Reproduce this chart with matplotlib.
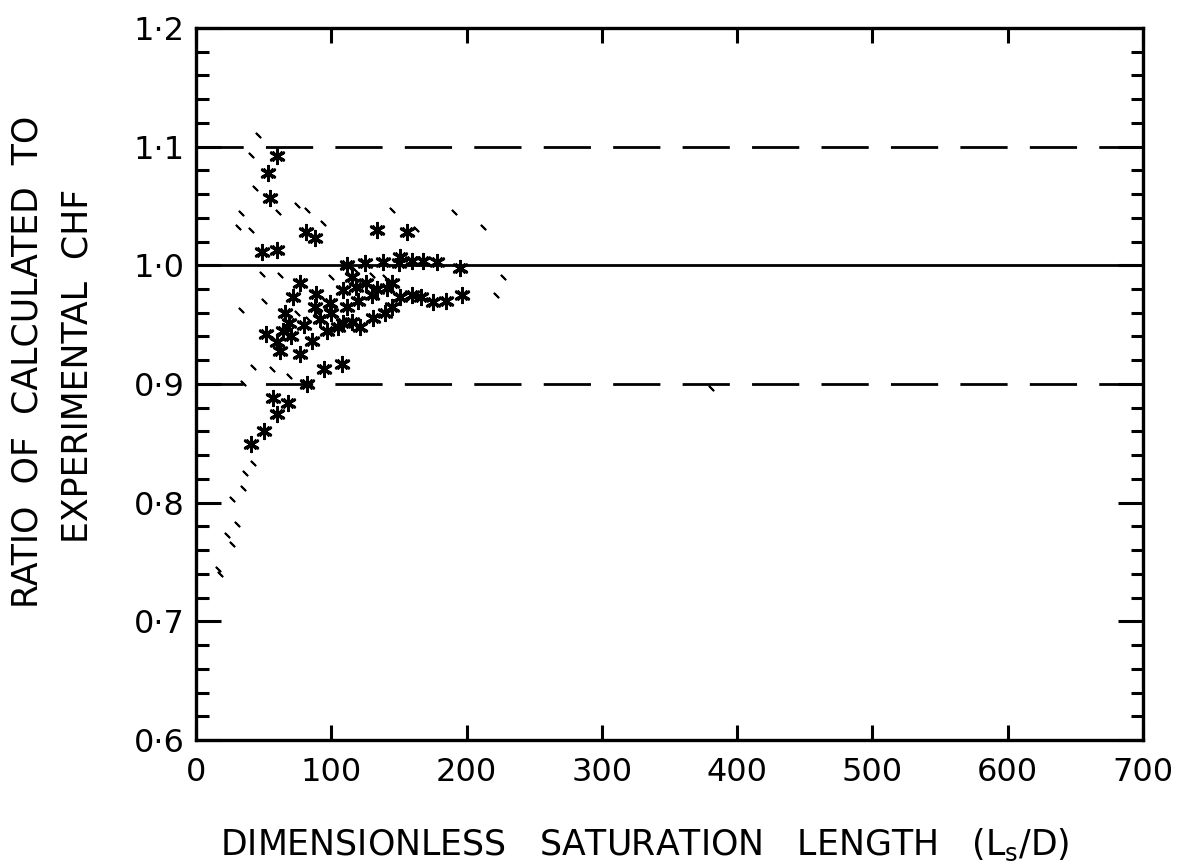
import matplotlib
matplotlib.use('Agg')
import matplotlib.pyplot as plt
from matplotlib.ticker import FixedLocator, FixedFormatter, MultipleLocator

# CHF ratio data
# heavy asterisk clusters
star_x = [60, 53, 55, 81, 88, 49, 60, 134, 156, 112, 125, 138, 151, 160, 168, 195,
          109, 118, 126, 134, 141, 151, 160, 166, 175, 197, 77, 89, 72, 99, 112,
          97, 105, 109, 115, 121, 131, 69, 52, 62, 77, 86, 95, 82, 68, 60, 57,
          50, 41, 64, 108,
          115, 130, 145, 120, 100, 92, 80, 70, 60, 145, 185, 140, 150, 178, 88, 66]
star_y = [1.092, 1.078, 1.057, 1.028, 1.023, 1.011, 1.013, 1.030, 1.028, 1.000,
          1.002, 1.003, 1.007, 1.004, 1.004, 0.998, 0.979, 0.982, 0.985, 0.980,
          0.981, 0.973, 0.975, 0.973, 0.969, 0.975, 0.985, 0.976, 0.973, 0.968,
          0.965, 0.945, 0.948, 0.951, 0.952, 0.948, 0.956, 0.951, 0.942, 0.928,
          0.925, 0.936, 0.913, 0.900, 0.884, 0.875, 0.888, 0.860, 0.849, 0.945,
          0.917,
          0.990, 0.975, 0.985, 0.970, 0.960, 0.955, 0.950, 0.940, 0.935, 0.965,
          0.970, 0.960, 1.002, 1.003, 0.965, 0.960]

# small isolated marks
speck_x = [46, 41, 44, 61, 75, 82, 33, 31, 41, 94, 145, 163, 191, 212, 227, 222,
           49, 62, 50, 33, 42, 56, 35, 69, 42, 36, 35, 27, 30, 23, 27, 16, 18,
           381, 100, 90, 118, 130, 140, 75, 83]
speck_y = [1.110, 1.093, 1.065, 1.045, 1.051, 1.047, 1.044, 1.032, 1.030, 1.036,
           1.047, 1.031, 1.045, 1.032, 0.990, 0.975, 0.993, 0.992, 0.970, 0.962,
           0.914, 0.913, 0.901, 0.907, 0.833, 0.825, 0.812, 0.803, 0.782, 0.773,
           0.765, 0.744, 0.740, 0.897, 0.990, 0.960, 0.995, 0.992, 0.990, 0.960,
           0.955]

x_ticks = [0, 100, 200, 300, 400, 500, 600, 700]
y_ticks = [0.6, 0.7, 0.8, 0.9, 1.0, 1.1, 1.2]
y_tick_labels = ['0·6', '0·7', '0·8', '0·9', '1·0', '1·1', '1·2']
ref_line = 1.0
band_lines = [0.9, 1.1]


def main():
    fig = plt.figure(figsize=(11.84, 8.68), dpi=100)
    ax = fig.add_axes([0.1655, 0.1475, 0.7998, 0.8203])

    ax.set_xlim(0, 700)
    ax.set_ylim(0.6, 1.2)

    ax.axhline(ref_line, color='black', linewidth=2.0, zorder=2)
    for yv in band_lines:
        ax.axhline(yv, color='black', linewidth=2.0, dashes=(17, 8), zorder=2)

    ax.scatter(star_x, star_y, marker=(6, 2, 0), s=110, color='black',
               linewidths=2.0, zorder=3)
    ax.scatter(star_x, star_y, marker=(4, 2, 45), s=70, color='black',
               linewidths=1.5, zorder=3)
    ax.scatter(speck_x, speck_y, marker=(2, 2, 45), s=16, color='black',
               linewidths=1.4, zorder=3)

    ax.xaxis.set_major_locator(FixedLocator(x_ticks))
    ax.yaxis.set_major_locator(FixedLocator(y_ticks))
    ax.yaxis.set_major_formatter(FixedFormatter(y_tick_labels))
    ax.yaxis.set_minor_locator(MultipleLocator(0.02))

    ax.tick_params(axis='x', which='major', direction='in', top=True, bottom=True,
                   length=11, width=2.2, labelsize=23, pad=12)
    ax.tick_params(axis='y', which='major', direction='in', left=True, right=True,
                   length=18, width=2.2, labelsize=23, pad=8)
    ax.tick_params(axis='y', which='minor', direction='in', left=True, right=True,
                   length=9, width=2.2)

    for sp in ax.spines.values():
        sp.set_linewidth(2.4)

    fig.text(28 / 1184, 1 - 362 / 868, 'RATIO  OF  CALCULATED  TO', rotation=90,
             ha='center', va='center', fontsize=25)
    fig.text(78 / 1184, 1 - 366 / 868, 'EXPERIMENTAL  CHF', rotation=90,
             ha='center', va='center', fontsize=25)
    fig.text(645 / 1184, 1 - 845 / 868,
             r'DIMENSIONLESS   SATURATION   LENGTH   (L$_\mathregular{s}$/D)',
             ha='center', va='center', fontsize=25)

    fig.savefig('out.png', dpi=100, facecolor='white')


if __name__ == '__main__':
    main()
